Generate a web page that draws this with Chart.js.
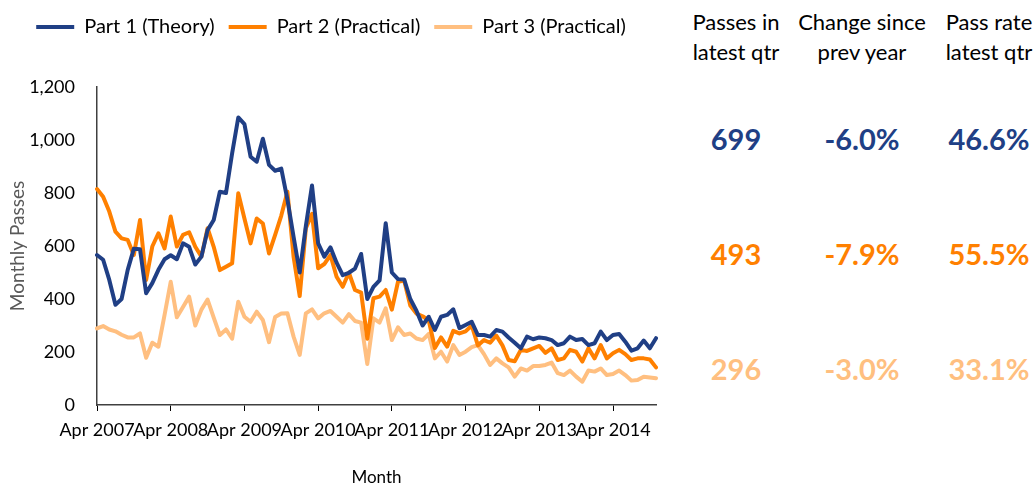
<!DOCTYPE html>
<html><head><meta charset="utf-8">
<script src="https://cdn.jsdelivr.net/npm/chart.js@4.4.1/dist/chart.umd.min.js"></script>
<style>
html,body{margin:0;padding:0;background:#fff;}
#wrap{position:relative;width:1035px;height:486px;overflow:hidden;font-family:Lato,'Open Sans',sans-serif;}
#c{position:absolute;left:0;top:0;}
.t{position:absolute;transform:translate(-50%,-50%);white-space:nowrap;text-align:center;}
.h{font-size:22px;color:#000;line-height:30px;}
.v{font-size:29px;font-weight:bold;}
</style></head>
<body><div id="wrap"><canvas id="c" width="680" height="486"></canvas><div id="panel"></div></div>
<script>
// ---- data ----
const startYear = 2007, startMonth = 3; // April
const monthNames = ['Jan','Feb','Mar','Apr','May','Jun','Jul','Aug','Sep','Oct','Nov','Dec'];
const part1Theory = [566,548,472,378,400,510,590,588,422,460,510,550,565,550,610,597,530,560,660,698,
  805,800,950,1085,1060,937,918,1005,906,884,892,775,635,500,675,828,610,560,595,537,
  490,499,515,570,400,446,470,686,500,475,474,400,356,300,333,283,333,340,361,290,
  302,314,264,264,258,283,277,255,235,214,258,248,255,252,245,226,233,258,245,249,
  226,233,277,245,264,268,239,205,214,243,214,252];
const part2Practical = [815,786,730,654,629,623,566,698,472,598,648,591,711,598,642,652,597,560,667,597,
  509,522,535,799,704,610,704,685,572,642,715,805,560,411,667,721,516,532,566,484,
  446,499,434,424,250,403,409,434,360,465,470,375,345,335,320,215,255,220,280,270,
  278,300,225,245,235,262,225,170,165,208,204,214,223,197,214,170,176,208,201,164,
  214,176,226,176,195,208,192,170,176,176,172,142];
const part3Practical = [289,298,285,278,265,255,255,270,178,235,220,340,465,331,370,409,300,360,398,330,
  264,285,250,390,333,314,352,321,237,332,345,346,258,189,346,361,327,346,355,333,
  311,343,317,311,155,327,311,365,245,293,264,270,251,245,268,176,201,164,226,189,
  201,218,226,192,151,176,157,142,107,138,130,147,147,151,160,120,113,130,107,88,
  130,126,138,113,117,130,113,92,94,107,104,101];
const seriesNames = ['Part 1 (Theory)','Part 2 (Practical)','Part 3 (Practical)'];
const seriesColors = ['#203f85','#ff8000','#ffbf80'];
const panelHeaders = [['Passes in','latest qtr'],['Change since','prev year'],['Pass rate','latest qtr']];
const passesLatestQtr = ['699','493','296'];
const changePrevYear = ['-6.0%','-7.9%','-3.0%'];
const passRateLatestQtr = ['46.6%','55.5%','33.1%'];

const months = [];
for (let i = 0; i < part1Theory.length; i++) {
  const m = (startMonth + i) % 12, y = startYear + Math.floor((startMonth + i) / 12);
  months.push(monthNames[m] + ' ' + y);
}

// ---- side panel ----
const panel = document.getElementById('panel');
const colX = [736, 862, 989];
function addText(txt, x, y, cls, color){
  const d = document.createElement('div');
  d.className = 't ' + cls; d.textContent = txt;
  d.style.left = x + 'px'; d.style.top = y + 'px';
  if (color) d.style.color = color;
  panel.appendChild(d);
}
panelHeaders.forEach((h, c) => { addText(h[0], colX[c], 22, 'h'); addText(h[1], colX[c], 52, 'h'); });
const rowY = [138, 253, 368];
[passesLatestQtr, changePrevYear, passRateLatestQtr].forEach((col, c) => {
  col.forEach((v, r) => addText(v, colX[c], rowY[r], 'v', seriesColors[r]));
});

// ---- chart ----
const F = 'Lato';
const datasets = [part1Theory, part2Practical, part3Practical].map((d, k) => ({
  label: seriesNames[k], data: d, borderColor: seriesColors[k], backgroundColor: seriesColors[k],
  borderWidth: 4, pointRadius: 0, tension: 0, fill: false,
  borderJoinStyle: 'round', borderCapStyle: 'round', order: k
}));
const legendSpacer = {
  id: 'legendSpacer',
  beforeInit(chart) {
    const lg = chart.legend; const orig = lg.fit;
    lg.fit = function () { orig.call(this); this.height = 84; };
  }
};
new Chart(document.getElementById('c'), {
  type: 'line',
  data: { labels: months, datasets },
  plugins: [legendSpacer],
  options: {
    responsive: false, animation: false,
    layout: { padding: { left: 6, right: 24, top: 3, bottom: 0 } },
    plugins: {
      legend: {
        position: 'top',
        labels: {
          boxWidth: 38, boxHeight: 4, padding: 14, color: '#000',
          font: { family: F, size: 20 },
          generateLabels: (chart) => Chart.defaults.plugins.legend.labels.generateLabels(chart)
            .map(l => Object.assign(l, { lineWidth: 0, fillStyle: l.strokeStyle }))
        }
      },
      tooltip: { enabled: false }
    },
    scales: {
      x: {
        type: 'category', offset: false,
        afterFit: (s) => { s.height = 81; },
        grid: { display: true, drawOnChartArea: false, drawTicks: true, tickLength: 6, color: '#000', lineWidth: 1 },
        border: { display: true, color: '#404040', width: 1.5 },
        ticks: {
          autoSkip: false, maxRotation: 0, minRotation: 0, padding: 8, color: '#000',
          font: { family: F, size: 18 },
          callback: (v, i) => (i % 12 === 0 ? months[i] : null)
        },
        title: { display: true, text: 'Month', color: '#000', font: { family: F, size: 17, lineHeight: 1 }, padding: { top: 0, bottom: 0 } }
      },
      y: {
        min: 0, max: 1200,
        afterFit: (s) => { s.width = 91; },
        grid: { display: true, drawOnChartArea: false, drawTicks: false },
        border: { display: true, color: '#404040', width: 1.5 },
        ticks: { stepSize: 200, padding: 22, color: '#000', font: { family: F, size: 18 },
          callback: v => v.toLocaleString('en-US') },
        title: { display: true, text: 'Monthly Passes', color: '#595959', font: { family: F, size: 19 }, padding: { top: 0, bottom: 0 } }
      }
    }
  }
});
</script></body></html>
